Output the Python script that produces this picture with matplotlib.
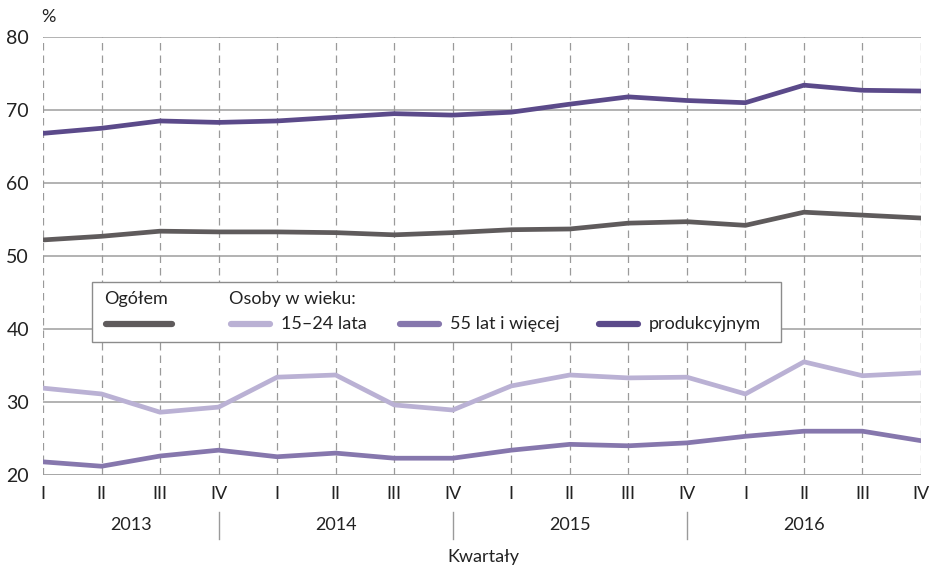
import numpy as np
import matplotlib.pyplot as plt
from matplotlib.lines import Line2D
from matplotlib.patches import Rectangle

plt.rcParams['font.family'] = ['Lato', 'DejaVu Sans']

quarters = ['I', 'II', 'III', 'IV'] * 4
years = ['2013', '2014', '2015', '2016']

ogolem = [52.2, 52.7, 53.4, 53.3, 53.3, 53.2, 52.9, 53.2,
          53.6, 53.7, 54.5, 54.7, 54.2, 56.0, 55.6, 55.2]
mlodzi = [31.9, 31.1, 28.6, 29.3, 33.4, 33.7, 29.6, 28.9,
          32.2, 33.7, 33.3, 33.4, 31.1, 35.5, 33.6, 34.0]
starsi = [21.8, 21.2, 22.6, 23.4, 22.5, 23.0, 22.3, 22.3,
          23.4, 24.2, 24.0, 24.4, 25.3, 26.0, 26.0, 24.7]
produkcyjny = [66.8, 67.5, 68.5, 68.3, 68.5, 69.0, 69.5, 69.3,
               69.7, 70.8, 71.8, 71.3, 71.0, 73.4, 72.7, 72.6]

c_ogolem = '#5f5b5c'
c_mlodzi = '#bab1d4'
c_starsi = '#8677ad'
c_prod = '#5b4a8a'
c_text = '#222222'
fs = 13

W, H = 930, 567
fig = plt.figure(figsize=(W / 100, H / 100), dpi=100)
ax = fig.add_axes([43 / W, 1 - 475 / H, (921 - 43) / W, (475 - 37) / H])

x = np.arange(len(quarters))
lw = 3.4
for vals, col in [(ogolem, c_ogolem), (mlodzi, c_mlodzi),
                  (starsi, c_starsi), (produkcyjny, c_prod)]:
    ax.plot(x, vals, color=col, lw=lw, solid_capstyle='round', zorder=3)

ax.set_xlim(0, len(quarters) - 1)
ax.set_ylim(20, 80)
ax.set_yticks(range(20, 81, 10))
for v in range(30, 81, 10):
    ax.axhline(v, color='#a6a6a6', lw=1.2, zorder=1)
ax.axhline(20, color='#a6a6a6', lw=1.4, zorder=1)
for xi in x:
    ax.axvline(xi, color='#9a9a9a', lw=0.9, ls=(0, (6, 4)), zorder=1)

for s in ax.spines.values():
    s.set_visible(False)
ax.set_xticks(x)
ax.set_xticklabels(quarters)
ax.tick_params(axis='both', length=0, labelsize=fs, colors=c_text)
ax.tick_params(axis='x', pad=8)
ax.tick_params(axis='y', pad=10)
for t in ax.get_yticklabels():
    t.set_fontsize(14)

# years and separators below quarter labels
for i, yr in enumerate(years):
    xs = i * 4 - 1 if i > 0 else 0
    xe = i * 4 + 3
    ax.text((xs + xe) / 2, -0.115, yr, transform=ax.get_xaxis_transform(),
            ha='center', va='center', fontsize=fs, color=c_text)
for i in range(3):
    ax.plot([i * 4 + 3] * 2, [-0.085, -0.145], transform=ax.get_xaxis_transform(),
            color='#9a9a9a', lw=1.0, clip_on=False)

fig.text(483 / W, 1 - 557 / H, 'Kwartały', ha='center', va='center',
         fontsize=fs, color=c_text)
fig.text(41 / W, 1 - 17 / H, '%', ha='left', va='center',
         fontsize=fs, color=c_text)

# legend box
def fx(px):
    return px / W

def fy(py):
    return 1 - py / H

fig.patches.append(Rectangle((fx(92), fy(342)), fx(781) - fx(92), fy(282) - fy(342),
                             transform=fig.transFigure, facecolor='white',
                             edgecolor='#8c8c8c', lw=1.0, zorder=5))
fig.text(fx(104), fy(299), 'Ogółem', fontsize=fs, va='center', color=c_text, zorder=6)
fig.text(fx(229), fy(299), 'Osoby w wieku:', fontsize=fs, va='center', color=c_text, zorder=6)
entries = [(106, 172, c_ogolem, None),
           (231, 270, c_mlodzi, '15–24 lata'),
           (400, 439, c_starsi, '55 lat i więcej'),
           (599, 638, c_prod, 'produkcyjnym')]
for x0, x1, col, lab in entries:
    fig.add_artist(Line2D([fx(x0), fx(x1)], [fy(324), fy(324)], color=col, lw=4.5,
                          solid_capstyle='round', transform=fig.transFigure, zorder=6))
    if lab:
        fig.text(fx(x1 + 11), fy(324), lab, fontsize=fs, va='center',
                 color=c_text, zorder=6)

fig.savefig('out.png', dpi=100)
